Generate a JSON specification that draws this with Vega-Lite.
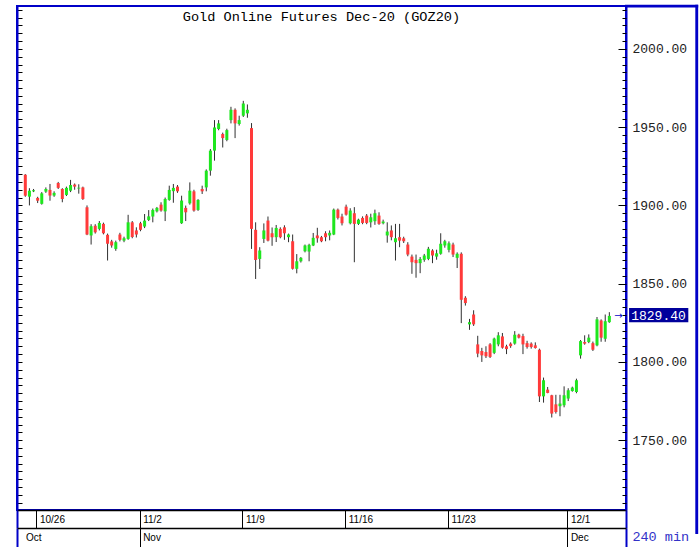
{
  "$schema": "https://vega.github.io/schema/vega-lite/v6.json",
  "width": 609,
  "height": 504,
  "autosize": "none",
  "padding": {"left": 17, "top": 6, "right": 74, "bottom": 37},
  "background": "white",
  "config": {"view": {"stroke": "#0000C8", "strokeWidth": 2}},
  "data": {"values": [
    {"i":0,"o":1919.6,"h":1920,"l":1905.5,"c":1906.2},
    {"i":1,"o":1905.6,"h":1911,"l":1900,"c":1909.4},
    {"i":2,"o":1909,"h":1910.5,"l":1908.5,"c":1909.7},
    {"i":3,"o":1904.8,"h":1905.5,"l":1901.5,"c":1903},
    {"i":4,"o":1901,"h":1908.5,"l":1900.5,"c":1907.7},
    {"i":5,"o":1908.8,"h":1911.5,"l":1908,"c":1910.5},
    {"i":6,"o":1909.9,"h":1913.7,"l":1903,"c":1906.3},
    {"i":7,"o":1906.3,"h":1909,"l":1905.5,"c":1908},
    {"i":8,"o":1914.3,"h":1915,"l":1910.5,"c":1911.2},
    {"i":9,"o":1910.5,"h":1911,"l":1902,"c":1904.1},
    {"i":10,"o":1906.7,"h":1912,"l":1906,"c":1911.2},
    {"i":11,"o":1909.4,"h":1916.3,"l":1908.5,"c":1913},
    {"i":12,"o":1913.3,"h":1914,"l":1910,"c":1912},
    {"i":13,"o":1910.8,"h":1913.5,"l":1907.5,"c":1911.3},
    {"i":14,"o":1911.5,"h":1912,"l":1903.5,"c":1904.1},
    {"i":15,"o":1898.8,"h":1900,"l":1881,"c":1881.4},
    {"i":16,"o":1880.8,"h":1888,"l":1875,"c":1886.7},
    {"i":17,"o":1887,"h":1888,"l":1882,"c":1882.8},
    {"i":18,"o":1885,"h":1890,"l":1884,"c":1888.8},
    {"i":19,"o":1888.2,"h":1889,"l":1881.5,"c":1882.2},
    {"i":20,"o":1881.2,"h":1882,"l":1864.8,"c":1875.5},
    {"i":21,"o":1877,"h":1878,"l":1873,"c":1874.4},
    {"i":22,"o":1872.2,"h":1877.5,"l":1871,"c":1876.5},
    {"i":23,"o":1881.4,"h":1882.5,"l":1877,"c":1878},
    {"i":24,"o":1877.5,"h":1880,"l":1876.5,"c":1879},
    {"i":25,"o":1878.6,"h":1894,"l":1878,"c":1889.2},
    {"i":26,"o":1889.2,"h":1890,"l":1879,"c":1879.8},
    {"i":27,"o":1884,"h":1886,"l":1879.5,"c":1881.4},
    {"i":28,"o":1888.6,"h":1889.5,"l":1883.5,"c":1884.4},
    {"i":29,"o":1886.5,"h":1894.5,"l":1885.5,"c":1890.3},
    {"i":30,"o":1890.7,"h":1897,"l":1890,"c":1893},
    {"i":31,"o":1892.9,"h":1898,"l":1889.2,"c":1897.1},
    {"i":32,"o":1896.2,"h":1899,"l":1895.5,"c":1898.4},
    {"i":33,"o":1900.5,"h":1902,"l":1896,"c":1896.7},
    {"i":34,"o":1896.2,"h":1905,"l":1890,"c":1904.1},
    {"i":35,"o":1903.5,"h":1912.6,"l":1903,"c":1909.9},
    {"i":36,"o":1909.1,"h":1913.7,"l":1901.7,"c":1911.2},
    {"i":37,"o":1912,"h":1913,"l":1908,"c":1909},
    {"i":38,"o":1888.6,"h":1906.2,"l":1888.2,"c":1903.1},
    {"i":39,"o":1898.4,"h":1899.9,"l":1890,"c":1895.6},
    {"i":40,"o":1901.3,"h":1914.7,"l":1900.5,"c":1909.4},
    {"i":41,"o":1909,"h":1910,"l":1896,"c":1896.7},
    {"i":42,"o":1897.1,"h":1904,"l":1896.5,"c":1903.5},
    {"i":43,"o":1910.5,"h":1912.6,"l":1907.3,"c":1909},
    {"i":44,"o":1911.5,"h":1923,"l":1909,"c":1922.2},
    {"i":45,"o":1922.2,"h":1936,"l":1919,"c":1935},
    {"i":46,"o":1935,"h":1954.5,"l":1928.6,"c":1949.8},
    {"i":47,"o":1948.8,"h":1954.5,"l":1948,"c":1952.4},
    {"i":48,"o":1945.6,"h":1946.5,"l":1937,"c":1943},
    {"i":49,"o":1941.8,"h":1949,"l":1941,"c":1948.1},
    {"i":50,"o":1954.5,"h":1963,"l":1952.4,"c":1961.1},
    {"i":51,"o":1961.1,"h":1962,"l":1943,"c":1952.4},
    {"i":52,"o":1952,"h":1957.3,"l":1951,"c":1954.5},
    {"i":53,"o":1957.3,"h":1966.8,"l":1956.5,"c":1965.1},
    {"i":54,"o":1958.8,"h":1964.5,"l":1956,"c":1961.1},
    {"i":55,"o":1949.4,"h":1952.6,"l":1872.2,"c":1885},
    {"i":56,"o":1884.4,"h":1889.2,"l":1853,"c":1865.2},
    {"i":57,"o":1865.8,"h":1873.3,"l":1859.4,"c":1871.2},
    {"i":58,"o":1878.6,"h":1888.5,"l":1876,"c":1884},
    {"i":59,"o":1890.3,"h":1892.9,"l":1877,"c":1877.5},
    {"i":60,"o":1882.2,"h":1885.9,"l":1874.2,"c":1879.7},
    {"i":61,"o":1879.7,"h":1887.5,"l":1876.6,"c":1885.6},
    {"i":62,"o":1885,"h":1886,"l":1879,"c":1879.7},
    {"i":63,"o":1886,"h":1887.3,"l":1878,"c":1882.2},
    {"i":64,"o":1879.7,"h":1882,"l":1876.5,"c":1881.4},
    {"i":65,"o":1877.1,"h":1881.4,"l":1859,"c":1859.5},
    {"i":66,"o":1859.5,"h":1868.9,"l":1856.6,"c":1864.3},
    {"i":67,"o":1864.3,"h":1867,"l":1863.5,"c":1866.5},
    {"i":68,"o":1870.7,"h":1875,"l":1870,"c":1874.4},
    {"i":69,"o":1870.5,"h":1875.5,"l":1864.3,"c":1874.8},
    {"i":70,"o":1874.4,"h":1882.4,"l":1874,"c":1879.3},
    {"i":71,"o":1880.8,"h":1885.7,"l":1876.2,"c":1879},
    {"i":72,"o":1879.7,"h":1880.5,"l":1876.5,"c":1877.1},
    {"i":73,"o":1882.2,"h":1883.5,"l":1877.1,"c":1879.7},
    {"i":74,"o":1880.8,"h":1884,"l":1877.7,"c":1882.5},
    {"i":75,"o":1881.4,"h":1898,"l":1881,"c":1897.3},
    {"i":76,"o":1897.3,"h":1898,"l":1891,"c":1892},
    {"i":77,"o":1892.9,"h":1894.7,"l":1887.2,"c":1888.6},
    {"i":78,"o":1899.2,"h":1900.5,"l":1893.5,"c":1894.1},
    {"i":79,"o":1888.6,"h":1898.2,"l":1887.9,"c":1896.7},
    {"i":80,"o":1895,"h":1898.9,"l":1863.7,"c":1888.2},
    {"i":81,"o":1888.2,"h":1891.5,"l":1887.5,"c":1890.9},
    {"i":82,"o":1892,"h":1893,"l":1888,"c":1888.8},
    {"i":83,"o":1893.5,"h":1894.5,"l":1888,"c":1888.8},
    {"i":84,"o":1889.2,"h":1894.7,"l":1885.9,"c":1892.4},
    {"i":85,"o":1889.9,"h":1897.3,"l":1887.6,"c":1895},
    {"i":86,"o":1893.5,"h":1895.6,"l":1887.6,"c":1888.2},
    {"i":87,"o":1888.6,"h":1890.9,"l":1887.9,"c":1889.7},
    {"i":88,"o":1880.8,"h":1889.2,"l":1876.2,"c":1883.3},
    {"i":89,"o":1884,"h":1887.2,"l":1877.7,"c":1879.7},
    {"i":90,"o":1876.5,"h":1888.2,"l":1864.8,"c":1879},
    {"i":91,"o":1879.7,"h":1888.2,"l":1873.3,"c":1877.5},
    {"i":92,"o":1879,"h":1880,"l":1876,"c":1877.1},
    {"i":93,"o":1875,"h":1876.5,"l":1867.5,"c":1868.6},
    {"i":94,"o":1867.3,"h":1868.6,"l":1856.3,"c":1863.7},
    {"i":95,"o":1865.2,"h":1868.6,"l":1853.8,"c":1863.1},
    {"i":96,"o":1863.1,"h":1867,"l":1856.7,"c":1865.8},
    {"i":97,"o":1865.2,"h":1869,"l":1864,"c":1868},
    {"i":98,"o":1865.8,"h":1873.5,"l":1865,"c":1872.3},
    {"i":99,"o":1871.2,"h":1872,"l":1863.1,"c":1868},
    {"i":100,"o":1867.3,"h":1871.7,"l":1865.3,"c":1869.4},
    {"i":101,"o":1869.1,"h":1882.2,"l":1868.5,"c":1875.5},
    {"i":102,"o":1874.4,"h":1878,"l":1873,"c":1877.1},
    {"i":103,"o":1871.6,"h":1877,"l":1870,"c":1875.8},
    {"i":104,"o":1875,"h":1876.2,"l":1867,"c":1868.6},
    {"i":105,"o":1866.5,"h":1870,"l":1860,"c":1869.1},
    {"i":106,"o":1869.1,"h":1870,"l":1824.8,"c":1839.7},
    {"i":107,"o":1841,"h":1842,"l":1836,"c":1837.6},
    {"i":108,"o":1824,"h":1827.5,"l":1820.5,"c":1825.4},
    {"i":109,"o":1830.3,"h":1833,"l":1823,"c":1824},
    {"i":110,"o":1811.2,"h":1816.7,"l":1803,"c":1805.3},
    {"i":111,"o":1807,"h":1809,"l":1800,"c":1804.2},
    {"i":112,"o":1806.3,"h":1810,"l":1802.5,"c":1803.6},
    {"i":113,"o":1811.2,"h":1812,"l":1802.5,"c":1803.2},
    {"i":114,"o":1805.8,"h":1815.5,"l":1805,"c":1814.9},
    {"i":115,"o":1811.2,"h":1819,"l":1810,"c":1817},
    {"i":116,"o":1816.3,"h":1818.5,"l":1808.5,"c":1809.1},
    {"i":117,"o":1810,"h":1811,"l":1805,"c":1808.2},
    {"i":118,"o":1811.7,"h":1812.5,"l":1809,"c":1810.1},
    {"i":119,"o":1811.7,"h":1819.7,"l":1811,"c":1817.4},
    {"i":120,"o":1817.4,"h":1818,"l":1815,"c":1815.5},
    {"i":121,"o":1816.5,"h":1818,"l":1805,"c":1811.2},
    {"i":122,"o":1812,"h":1813.5,"l":1808.5,"c":1809.5},
    {"i":123,"o":1811.7,"h":1812.5,"l":1808.5,"c":1809.5},
    {"i":124,"o":1810.6,"h":1812.5,"l":1808.5,"c":1808.9},
    {"i":125,"o":1807.8,"h":1808.5,"l":1774.4,"c":1778},
    {"i":126,"o":1778,"h":1790,"l":1774,"c":1788.3},
    {"i":127,"o":1782.3,"h":1784,"l":1780,"c":1780.2},
    {"i":128,"o":1778.7,"h":1779,"l":1764.5,"c":1767},
    {"i":129,"o":1772.9,"h":1779,"l":1767,"c":1768},
    {"i":130,"o":1771.7,"h":1779,"l":1765.3,"c":1773.4},
    {"i":131,"o":1772.3,"h":1784.4,"l":1771,"c":1778.7},
    {"i":132,"o":1776.6,"h":1783.2,"l":1775,"c":1781.9},
    {"i":133,"o":1781.4,"h":1784.2,"l":1781,"c":1783.6},
    {"i":134,"o":1780.8,"h":1789.3,"l":1780,"c":1788.3},
    {"i":135,"o":1804.2,"h":1814,"l":1802.1,"c":1813.3},
    {"i":136,"o":1812.7,"h":1817,"l":1811,"c":1811.7},
    {"i":137,"o":1812.7,"h":1817.6,"l":1812,"c":1815.5},
    {"i":138,"o":1812,"h":1813,"l":1807,"c":1807.8},
    {"i":139,"o":1810.6,"h":1828.7,"l":1810,"c":1827.2},
    {"i":140,"o":1826.5,"h":1827.2,"l":1812.9,"c":1815.5},
    {"i":141,"o":1814.8,"h":1830.3,"l":1812.9,"c":1826},
    {"i":142,"o":1825.4,"h":1831.8,"l":1825,"c":1829.4}
  ]},
  "resolve": {"axis": {"x": "independent", "y": "independent"}},
  "layer": [
    {
      "mark": {"type": "rule", "color": "#303030", "strokeWidth": 1},
      "encoding": {
        "x": {"field": "i", "type": "quantitative", "scale": {"domain": [-2.02, 146.05], "nice": false, "zero": false, "padding": 0},
          "axis": {"orient": "bottom", "values": [-2.02, 2.7, 27.8, 52.8, 77.8, 102.8, 131.8, 146.05],
            "labelExpr": "datum.value < 0 || datum.value > 140 ? '' : datum.value < 5 ? '10/26' : datum.value < 30 ? '11/2' : datum.value < 55 ? '11/9' : datum.value < 80 ? '11/16' : datum.value < 110 ? '11/23' : '12/1'",
            "tickSize": 18,
            "tickColor": {"condition": {"test": "datum.value < 0 || datum.value > 140", "value": "#0000C8"}, "value": "#000000"},
            "tickWidth": {"condition": {"test": "datum.value < 0 || datum.value > 140", "value": 2}, "value": 1},
            "domainColor": "#000000", "domainWidth": 1.5,
            "labelAlign": "left", "labelBaseline": "middle", "labelPadding": -9, "labelOffset": 3,
            "labelFont": "Liberation Sans", "labelFontSize": 10, "labelColor": "#000000",
            "labelOverlap": false, "labelBound": false, "labelFlush": false, "grid": false, "title": null}},
        "y": {"field": "l", "type": "quantitative", "scale": {"domain": [1705.4, 2027.4], "nice": false, "zero": false, "padding": 0},
          "axis": {"orient": "right", "values": [1750, 1800, 1850, 1900, 1950, 2000], "format": ".2f",
            "tickSize": -8, "tickColor": "#000000", "labelPadding": 14,
            "labelFont": "Liberation Mono", "labelFontSize": 13, "labelColor": "#222222",
            "labelAlign": "left", "labelBaseline": "middle",
            "domainColor": "#0000C8", "domainWidth": 2, "grid": false, "title": null, "labelOverlap": false}},
        "y2": {"field": "h"}
      }
    },
    {
      "transform": [{"filter": "datum.c < datum.o"}],
      "mark": {"type": "bar", "color": "#FF3A3A", "size": 3},
      "encoding": {
        "x": {"field": "i", "type": "quantitative", "scale": {"domain": [-2.02, 146.05], "nice": false, "zero": false, "padding": 0}, "axis": null},
        "y": {"field": "o", "type": "quantitative", "scale": {"domain": [1705.4, 2027.4], "nice": false, "zero": false, "padding": 0},
          "axis": {"orient": "right", "values": [1710,1715,1720,1725,1730,1735,1740,1745,1750,1755,1760,1765,1770,1775,1780,1785,1790,1795,1800,1805,1810,1815,1820,1825,1830,1835,1840,1845,1850,1855,1860,1865,1870,1875,1880,1885,1890,1895,1900,1905,1910,1915,1920,1925,1930,1935,1940,1945,1950,1955,1960,1965,1970,1975,1980,1985,1990,1995,2000,2005,2010,2015,2020,2025],
            "tickSize": -4, "tickColor": "#000000", "labels": false, "domain": false, "grid": false, "title": null}},
        "y2": {"field": "c"}
      }
    },
    {
      "transform": [{"filter": "datum.c >= datum.o"}],
      "mark": {"type": "bar", "color": "#1EE61E", "size": 3},
      "encoding": {
        "x": {"field": "i", "type": "quantitative", "scale": {"domain": [-2.02, 146.05], "nice": false, "zero": false, "padding": 0},
          "axis": {"orient": "bottom", "offset": 18, "values": [-2.02, -0.7, 27.8, 131.8, 146.05],
            "labelExpr": "datum.value < -1 || datum.value > 140 ? '' : datum.value < 5 ? 'Oct' : datum.value < 30 ? 'Nov' : 'Dec'",
            "tickSize": 19,
            "tickColor": {"condition": {"test": "datum.value < -1 || datum.value > 140", "value": "#0000C8"}, "value": "#000000"},
            "tickWidth": {"condition": {"test": "datum.value < -1 || datum.value > 140", "value": 2}, "value": 1},
            "tickOpacity": {"condition": {"test": "datum.value > -1 && datum.value < 1", "value": 0}, "value": 1},
            "domainColor": "#000000", "domainWidth": 1.5,
            "labelAlign": "left", "labelBaseline": "middle", "labelPadding": -9.5, "labelOffset": 3,
            "labelFont": "Liberation Sans", "labelFontSize": 10, "labelColor": "#000000",
            "labelOverlap": false, "labelBound": false, "labelFlush": false, "grid": false, "title": null}},
        "y": {"field": "o", "type": "quantitative", "scale": {"domain": [1705.4, 2027.4], "nice": false, "zero": false, "padding": 0},
          "axis": {"orient": "left", "values": [1710,1715,1720,1725,1730,1735,1740,1745,1750,1755,1760,1765,1770,1775,1780,1785,1790,1795,1800,1805,1810,1815,1820,1825,1830,1835,1840,1845,1850,1855,1860,1865,1870,1875,1880,1885,1890,1895,1900,1905,1910,1915,1920,1925,1930,1935,1940,1945,1950,1955,1960,1965,1970,1975,1980,1985,1990,1995,2000,2005,2010,2015,2020,2025],
            "tickSize": -5, "tickColor": "#000000", "labels": false, "domainColor": "#0000C8", "domainWidth": 2, "grid": false, "title": null}},
        "y2": {"field": "c"}
      }
    },
    {
      "data": {"values": [{}]},
      "mark": {"type": "rect", "color": "#00009C"},
      "encoding": {
        "x": {"datum": 146.8, "type": "quantitative", "scale": {"domain": [-2.02, 146.05], "nice": false, "zero": false, "padding": 0}, "axis": null},
        "x2": {"datum": 161.2},
        "y": {"datum": 1834.4, "type": "quantitative", "scale": {"domain": [1705.4, 2027.4], "nice": false, "zero": false, "padding": 0}, "axis": null},
        "y2": {"datum": 1825.4}
      }
    },
    {
      "transform": [{"filter": "datum.i == 142"}],
      "mark": {"type": "text", "font": "Liberation Mono", "fontSize": 13, "color": "#FFFFFF", "align": "center", "baseline": "middle"},
      "encoding": {
        "x": {"datum": 153.95, "type": "quantitative", "scale": {"domain": [-2.02, 146.05], "nice": false, "zero": false, "padding": 0}, "axis": null},
        "y": {"field": "c", "type": "quantitative", "scale": {"domain": [1705.4, 2027.4], "nice": false, "zero": false, "padding": 0}, "axis": null},
        "text": {"field": "c", "format": ".2f"}
      }
    },
    {
      "transform": [{"filter": "datum.i == 142"}],
      "mark": {"type": "text", "text": "→", "font": "DejaVu Sans", "fontSize": 10, "color": "#0000C8", "align": "center", "baseline": "middle"},
      "encoding": {
        "x": {"datum": 144.2, "type": "quantitative", "scale": {"domain": [-2.02, 146.05], "nice": false, "zero": false, "padding": 0}, "axis": null},
        "y": {"field": "c", "type": "quantitative", "scale": {"domain": [1705.4, 2027.4], "nice": false, "zero": false, "padding": 0}, "axis": null}
      }
    },
    {
      "data": {"values": [{}]},
      "mark": {"type": "text", "text": "240 min", "font": "Liberation Mono", "fontSize": 13.5, "color": "#3232C8", "align": "center", "baseline": "middle"},
      "encoding": {
        "x": {"datum": 154.5, "type": "quantitative", "scale": {"domain": [-2.02, 146.05], "nice": false, "zero": false, "padding": 0}, "axis": null},
        "y": {"datum": 1688.2, "type": "quantitative", "scale": {"domain": [1705.4, 2027.4], "nice": false, "zero": false, "padding": 0}, "axis": null}
      }
    },
    {
      "data": {"values": [{}]},
      "mark": {"type": "text", "text": "Gold Online Futures Dec-20 (GOZ20)", "font": "Liberation Mono", "fontSize": 13.6, "color": "#000000", "baseline": "alphabetic", "align": "center"},
      "encoding": {
        "x": {"datum": 72.0, "type": "quantitative", "scale": {"domain": [-2.02, 146.05], "nice": false, "zero": false, "padding": 0}, "axis": null},
        "y": {"datum": 2017.7, "type": "quantitative", "scale": {"domain": [1705.4, 2027.4], "nice": false, "zero": false, "padding": 0}, "axis": null}
      }
    },
    {
      "data": {"values": [{}]},
      "mark": {"type": "rect", "color": "#0000C8"},
      "encoding": {
        "x": {"datum": 145.8, "type": "quantitative", "scale": {"domain": [-2.02, 146.05], "nice": false, "zero": false, "padding": 0}, "axis": null},
        "x2": {"datum": 163.6},
        "y": {"datum": 2028.2, "type": "quantitative", "scale": {"domain": [1705.4, 2027.4], "nice": false, "zero": false, "padding": 0}, "axis": null},
        "y2": {"datum": 2026.4}
      }
    },
    {
      "data": {"values": [{}]},
      "mark": {"type": "rect", "color": "#0000C8"},
      "encoding": {
        "x": {"datum": 162.9, "type": "quantitative", "scale": {"domain": [-2.02, 146.05], "nice": false, "zero": false, "padding": 0}, "axis": null},
        "x2": {"datum": 163.6},
        "y": {"datum": 2028.2, "type": "quantitative", "scale": {"domain": [1705.4, 2027.4], "nice": false, "zero": false, "padding": 0}, "axis": null},
        "y2": {"datum": 1690}
      }
    }
  ]
}
